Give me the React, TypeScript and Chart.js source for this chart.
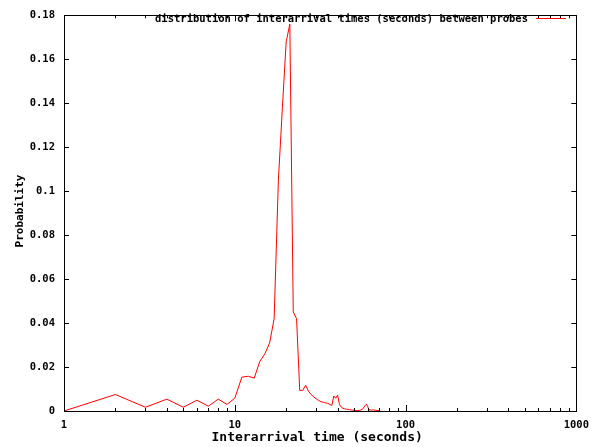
import React, { useEffect, useRef } from "react";
import { Chart, registerables } from "chart.js";

Chart.register(...registerables);

const seconds: number[] = [
  1, 2, 3, 4, 5, 6, 7, 8, 9, 10, 11, 12, 13, 14, 15, 16, 17, 18, 19, 20, 21, 22, 23, 24, 25,
  26, 27, 28, 29, 30, 31, 32, 33, 34, 35, 36, 37, 38, 39, 40, 41, 42, 43, 44, 45, 46, 47, 48,
  50, 52, 54, 56, 58, 59, 60, 61, 63, 65, 67, 70,
];
const probability: number[] = [
  0, 0.0075, 0.0017, 0.0054, 0.0017, 0.0049, 0.0022, 0.0054, 0.003, 0.0058, 0.0154, 0.0158,
  0.015, 0.0225, 0.026, 0.031, 0.042, 0.105, 0.138, 0.168, 0.176, 0.045, 0.042, 0.0094, 0.0094,
  0.0117, 0.009, 0.0075, 0.0064, 0.0055, 0.0048, 0.0042, 0.004, 0.0037, 0.0035, 0.003, 0.0025,
  0.0068, 0.0058, 0.0072, 0.003, 0.0018, 0.0012, 0.001, 0.0008, 0.0008, 0.0006, 0.0005, 0.0003,
  0.0001, 0.0003, 0.0008, 0.0025, 0.0031, 0.002, 0.0006, 0.0004, 0.0005, 0.0003, 0.0002,
];
const yTicks: number[] = [0, 0.02, 0.04, 0.06, 0.08, 0.1, 0.12, 0.14, 0.16, 0.18];
const xMajor: number[] = [1, 10, 100, 1000];
const seriesLabel = "distribution of interarrival times (seconds) between probes";
const xTitle = "Interarrival time (seconds)";
const yTitle = "Probability";

const MONO = "'DejaVu Sans Mono', 'Liberation Mono', monospace";

const decorPlugin = {
  id: "gnuplotDecor",
  afterDatasetsDraw(chart: any) {
    const { ctx, chartArea } = chart;
    const { left, right, top, bottom } = chartArea;
    const xs = chart.scales.x;
    const ys = chart.scales.y;
    ctx.save();
    ctx.strokeStyle = "#000";
    ctx.lineWidth = 1;
    // frame
    ctx.strokeRect(Math.round(left) + 0.5, Math.round(top) + 0.5, Math.round(right - left), Math.round(bottom - top));
    ctx.beginPath();
    // y ticks (inward, mirrored)
    for (const v of yTicks) {
      const py = Math.round(ys.getPixelForValue(v)) + 0.5;
      ctx.moveTo(left, py);
      ctx.lineTo(left + 5, py);
      ctx.moveTo(right, py);
      ctx.lineTo(right - 5, py);
    }
    // x ticks (log, major + minor)
    for (let i = 0; i < xMajor.length; i++) {
      const base = xMajor[i];
      const lim = i === xMajor.length - 1 ? 1 : 9;
      for (let m = 1; m <= lim; m++) {
        const v = base * m;
        const px = Math.round(xs.getPixelForValue(v)) + 0.5;
        const len = m === 1 ? 6 : 3;
        ctx.moveTo(px, bottom);
        ctx.lineTo(px, bottom - len);
        ctx.moveTo(px, top);
        ctx.lineTo(px, top + len);
      }
    }
    ctx.stroke();

    // legend
    ctx.fillStyle = "#000";
    ctx.font = `bold 10.5px ${MONO}`;
    ctx.textAlign = "right";
    ctx.textBaseline = "middle";
    ctx.fillText(seriesLabel, 528, 19);
    ctx.strokeStyle = "#ff0000";
    ctx.beginPath();
    ctx.moveTo(536, 18.5);
    ctx.lineTo(566, 18.5);
    ctx.stroke();

    // axis titles
    ctx.fillStyle = "#000";
    ctx.font = `bold 13px ${MONO}`;
    ctx.textAlign = "center";
    ctx.textBaseline = "middle";
    ctx.fillText(xTitle, (left + right) / 2 - 3, 438);
    ctx.save();
    ctx.translate(20, 211);
    ctx.rotate(-Math.PI / 2);
    ctx.font = `bold 11px ${MONO}`;
    ctx.fillText(yTitle, 0, 0);
    ctx.restore();
    ctx.restore();
  },
};

export default function App() {
  const ref = useRef<HTMLCanvasElement | null>(null);
  useEffect(() => {
    document.body.style.margin = "0";
    const canvas = ref.current;
    if (!canvas) return;
    const points = seconds.map((s, i) => ({ x: s, y: probability[i] }));
    const chart = new Chart(canvas, {
      type: "line",
      data: {
        datasets: [
          {
            label: seriesLabel,
            data: points,
            borderColor: "#ff0000",
            backgroundColor: "#ff0000",
            borderWidth: 1,
            pointRadius: 0,
            tension: 0,
            fill: false,
          },
        ],
      },
      options: {
        responsive: false,
        animation: false,
        events: [],
        layout: { padding: { left: 0, right: 19, top: 10, bottom: 0 } },
        plugins: { legend: { display: false }, tooltip: { enabled: false } },
        scales: {
          x: {
            type: "logarithmic",
            min: 1,
            max: 1000,
            grid: { display: false, drawTicks: false },
            border: { display: false },
            ticks: {
              autoSkip: false,
              maxRotation: 0,
              padding: 8,
              color: "#000",
              font: { family: MONO, size: 10.5, weight: "bold" },
              callback: (v: any) => {
                const n = Number(v);
                return xMajor.includes(n) ? String(n) : "";
              },
            },
            afterFit: (s: any) => {
              s.height = 36;
            },
          },
          y: {
            type: "linear",
            min: 0,
            max: 0.18,
            grid: { display: false, drawTicks: false },
            border: { display: false },
            afterBuildTicks: (s: any) => {
              s.ticks = yTicks.map((v) => ({ value: v }));
            },
            ticks: {
              padding: 9,
              color: "#000",
              font: { family: MONO, size: 10.5, weight: "bold" },
              callback: (v: any) => String(Math.round(Number(v) * 100) / 100),
            },
            afterFit: (s: any) => {
              s.width = 64;
            },
          },
        },
      } as any,
      plugins: [decorPlugin],
    });
    return () => chart.destroy();
  }, []);
  return (
    <div style={{ width: 597, height: 447, background: "#fff" }}>
      <canvas ref={ref} width={597} height={447} style={{ display: "block" }} />
    </div>
  );
}
